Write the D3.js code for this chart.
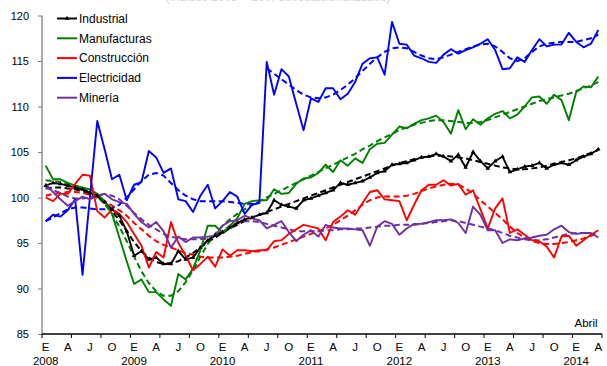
<!DOCTYPE html>
<html>
<head>
<meta charset="utf-8">
<script src="https://cdn.jsdelivr.net/npm/d3@7"></script>
<style>
  html, body { margin: 0; padding: 0; background: #fff; }
  svg { display: block; font-family: "Liberation Sans", Arial, sans-serif; }
</style>
</head>
<body>
<svg id="chart" width="607" height="366"></svg>
<script>
// Monthly indices, January 2008 to April 2014 (76 months)
const years = [2008, 2009, 2010, 2011, 2012, 2013, 2014];
const monthLetters = ["E", "A", "J", "O"]; // January, April, July, October
const yTicks = [85, 90, 95, 100, 105, 110, 115, 120];
const seriesNames = ["Industrial", "Manufacturas", "Construcción", "Electricidad", "Minería"];

const industrial = [101.3,101.6,101.5,101.3,101.1,100.9,100.5,100.2,99.5,98.7,98.0,96.3,93.6,94.1,93.2,93.4,92.7,92.7,94.1,93.2,93.4,94.5,95.3,95.8,96.2,96.7,97.2,97.6,97.8,98.1,98.3,99.7,99.2,99.0,98.8,99.7,99.9,100.2,100.5,100.8,101.6,101.4,101.6,101.8,102.2,102.7,102.9,103.6,103.7,103.8,104.1,104.4,104.5,104.8,104.5,104.0,104.7,103.3,105.0,104.0,103.2,104.0,104.5,102.8,103.1,103.4,103.5,103.8,103.2,103.6,103.8,103.6,104.1,104.5,104.8,105.3];
const industrialTrend = [101.0,101.1,101.1,101.0,100.9,100.7,100.4,100.0,99.4,98.5,97.5,96.3,95.1,94.1,93.4,92.9,92.7,92.8,93.0,93.4,93.9,94.5,95.1,95.6,96.1,96.6,97.0,97.4,97.8,98.1,98.4,98.7,99.0,99.3,99.6,99.9,100.2,100.5,100.8,101.1,101.4,101.7,102.0,102.3,102.6,102.9,103.2,103.5,103.8,104.0,104.2,104.4,104.5,104.6,104.6,104.5,104.4,104.3,104.1,103.9,103.7,103.5,103.3,103.2,103.1,103.1,103.2,103.3,103.5,103.7,103.9,104.1,104.3,104.6,104.9,105.2];

const manufacturas = [103.5,102.0,102.0,101.6,101.3,101.1,100.9,100.4,99.6,98.2,95.6,93.0,90.5,91.0,89.6,89.6,88.8,88.1,91.6,91.0,92.2,94.2,96.9,96.9,96.1,96.9,97.7,99.3,99.6,99.7,99.7,100.9,100.4,100.5,101.5,102.1,102.2,102.7,103.6,102.8,104.1,103.5,104.3,103.8,105.3,105.9,106.0,106.9,107.8,107.6,108.1,108.5,108.7,109.0,108.3,107.0,109.6,107.5,108.6,108.0,108.7,109.2,109.5,108.7,109.1,110.0,111.0,111.1,110.3,111.3,110.7,108.5,111.6,112.2,112.1,113.3];
const manufacturasTrend = [101.9,101.8,101.7,101.5,101.3,101.0,100.6,100.1,99.3,98.2,96.8,95.2,93.5,91.9,90.6,89.7,89.2,89.2,89.7,90.7,92.0,93.5,94.9,96.0,96.9,97.6,98.2,98.7,99.2,99.6,100.0,100.4,100.8,101.2,101.6,102.0,102.4,102.8,103.2,103.6,104.0,104.4,104.8,105.3,105.7,106.2,106.6,107.0,107.4,107.7,108.0,108.2,108.4,108.5,108.5,108.4,108.3,108.2,108.2,108.3,108.5,108.8,109.1,109.4,109.7,110.0,110.3,110.6,110.8,111.0,111.2,111.4,111.7,112.0,112.3,112.7];

const construccion = [100.0,99.6,100.4,100.4,101.5,102.5,102.4,98.5,97.8,98.7,98.2,97.3,96.0,94.7,92.3,94.0,93.4,97.3,95.0,93.6,92.0,92.7,93.5,92.4,94.3,93.6,94.2,94.2,94.1,94.2,94.2,95.2,95.3,96.0,96.5,97.0,96.8,96.6,95.3,97.3,97.9,98.6,98.1,99.4,100.6,100.8,99.8,99.7,99.6,97.5,99.2,100.8,101.4,101.4,101.9,101.3,101.5,100.3,100.8,98.7,96.6,98.8,99.9,96.1,96.5,95.9,95.3,95.2,94.6,93.4,95.7,95.8,94.7,95.3,95.9,96.4];
const construccionTrend = [100.2,100.4,100.5,100.6,100.6,100.5,100.3,100.0,99.6,99.1,98.6,98.0,97.2,96.5,95.8,95.2,94.8,94.5,94.2,93.9,93.7,93.5,93.4,93.4,93.4,93.5,93.6,93.8,94.0,94.1,94.3,94.5,94.8,95.1,95.4,95.7,96.0,96.3,96.6,97.0,97.5,98.0,98.6,99.2,99.7,100.0,100.1,100.1,100.1,100.2,100.4,100.7,101.0,101.2,101.4,101.5,101.4,101.0,100.4,99.7,99.0,98.3,97.6,96.8,96.1,95.6,95.2,95.0,94.9,94.9,95.0,95.1,95.3,95.5,95.8,96.1];

const electricidad = [97.4,98.1,97.9,98.6,99.8,91.5,100.0,108.4,105.3,102.0,102.5,99.7,101.4,101.7,105.1,104.4,102.7,103.2,99.8,99.6,98.4,100.2,101.4,98.8,99.6,100.6,100.1,98.2,99.2,99.4,114.9,111.3,114.1,113.3,110.3,107.4,110.9,110.5,112.0,112.0,110.8,111.4,112.7,114.7,115.3,115.4,113.5,119.3,116.9,116.8,115.6,115.3,114.9,114.8,115.7,116.3,115.8,116.2,116.5,116.9,117.4,116.2,114.1,114.2,115.4,114.9,116.2,117.4,116.6,116.8,116.8,118.1,117.1,116.5,116.9,118.4];
// The trend restarts at July 2010 (index 30), after the level shift
const electricidadTrend = [97.4,97.8,98.3,98.7,98.9,98.9,98.8,98.7,98.7,98.8,99.2,100.0,100.9,101.8,102.5,102.7,102.4,101.6,100.8,100.2,99.8,99.6,99.6,99.6,99.6,99.5,99.4,99.3,99.3,99.5,114.2,113.6,113.0,112.4,111.8,111.3,111.0,110.9,111.0,111.3,111.8,112.4,113.1,113.9,114.7,115.4,116.0,116.4,116.5,116.4,116.0,115.6,115.3,115.2,115.4,115.7,116.0,116.3,116.6,116.8,116.9,116.6,116.0,115.3,115.0,115.3,116.0,116.6,116.9,117.0,117.1,117.1,117.1,117.3,117.5,117.9];
const electricidadBreak = 30;

const mineria = [101.5,100.6,99.8,99.1,99.6,100.1,99.8,100.2,100.4,99.8,99.5,99.3,98.2,97.3,96.7,97.3,96.3,94.5,95.7,95.1,95.6,95.6,95.7,95.8,96.9,97.4,97.5,98.0,97.7,97.5,96.6,97.0,97.4,96.2,95.2,95.9,96.4,95.7,97.0,96.7,96.6,96.6,96.5,96.4,94.7,96.8,97.4,97.1,95.9,96.6,97.1,97.1,97.3,97.5,97.5,97.6,97.2,96.1,99.0,98.1,96.4,96.4,95.0,95.4,95.3,95.5,95.6,95.8,95.9,96.5,96.9,96.2,96.0,96.1,96.1,95.6];
const mineriaTrend = [101.1,100.8,100.5,100.1,99.9,99.9,100.0,100.2,100.4,100.2,99.8,99.1,98.3,97.6,97.0,96.5,96.0,95.7,95.5,95.4,95.4,95.4,95.5,95.8,96.3,96.9,97.2,97.4,97.4,97.3,97.1,96.9,96.7,96.5,96.3,96.3,96.3,96.3,96.4,96.4,96.5,96.5,96.6,96.6,96.7,96.8,96.9,96.9,97.0,97.0,97.0,97.1,97.2,97.3,97.4,97.5,97.4,97.2,97.0,96.8,96.6,96.4,96.1,95.8,95.6,95.4,95.3,95.3,95.4,95.6,95.8,96.0,96.1,96.1,96.0,95.9];

const colors = ["#000000", "#008000", "#ff0000", "#0000ff", "#7030a0"];

const svg = d3.select("#chart");
const plotLeft = 42, plotRight = 602, plotTop = 15.5, plotBottom = 334;
const nMonths = industrial.length;

const x = d3.scaleBand().domain(d3.range(nMonths)).range([plotLeft, plotRight]).paddingInner(0).paddingOuter(0);
const cx = i => x(i) + x.bandwidth() / 2;
const y = d3.scaleLinear().domain([85, 120]).range([plotBottom, plotTop]);

// faint heading, mostly cut off by the top edge
svg.append("text")
  .attr("x", 278).attr("y", 1)
  .attr("text-anchor", "middle")
  .attr("font-size", 12).attr("fill", "#d6d6d6")
  .text("(Índices 2008 = 100, desestacionalizados)");

// y axis
const yAxis = d3.axisLeft(y).tickValues(yTicks).tickSize(4).tickPadding(9);
const gy = svg.append("g").attr("transform", `translate(${plotLeft},0)`).call(yAxis);
gy.select(".domain").attr("stroke", "#808080").attr("stroke-width", 1.3).attr("d", `M0,${plotTop}V${plotBottom}`);
gy.selectAll(".tick line").attr("stroke", "#808080");
gy.selectAll(".tick text").attr("font-size", 11).attr("fill", "#000").attr("font-family", "Liberation Sans, Arial, sans-serif");

// x axis: tick marks every four months, labels every quarter
const xTickIdx = d3.range(0, nMonths + 1, 4);
const gx = svg.append("g");
gx.append("line").attr("x1", plotLeft).attr("x2", plotRight).attr("y1", plotBottom).attr("y2", plotBottom)
  .attr("stroke", "#000").attr("stroke-width", 1.3);
gx.selectAll("line.tk").data(xTickIdx).join("line").attr("class", "tk")
  .attr("x1", i => (i < nMonths ? x(i) : plotRight)).attr("x2", i => (i < nMonths ? x(i) : plotRight))
  .attr("y1", plotBottom).attr("y2", plotBottom + 4).attr("stroke", "#000");

const quarterIdx = d3.range(0, nMonths, 3);
gx.selectAll("text.m").data(quarterIdx).join("text").attr("class", "m")
  .attr("x", i => cx(i)).attr("y", 351)
  .attr("text-anchor", "middle").attr("font-size", 11.5)
  .text(i => monthLetters[(i % 12) / 3]);
gx.selectAll("text.yr").data(years).join("text").attr("class", "yr")
  .attr("x", (d, k) => cx(k * 12)).attr("y", 365)
  .attr("text-anchor", "middle").attr("font-size", 11.5)
  .text(d => d);
svg.append("text").attr("x", 586).attr("y", 326.5).attr("text-anchor", "middle")
  .attr("font-size", 11.5).text("Abril");

const line = d3.line().x((d, i) => cx(i)).y(d => y(d));
const lineFrom = start => d3.line().x((d, i) => cx(i + start)).y(d => y(d));

const raw = [industrial, manufacturas, construccion, electricidad, mineria];
const trend = [industrialTrend, manufacturasTrend, construccionTrend, electricidadTrend, mineriaTrend];

const plot = svg.append("g").attr("fill", "none").attr("stroke-linejoin", "round");

// dashed trends
trend.forEach((t, k) => {
  if (k === 3) {
    plot.append("path").attr("d", lineFrom(0)(t.slice(0, electricidadBreak)))
      .attr("stroke", colors[k]).attr("stroke-width", 2).attr("stroke-dasharray", "6,3.5");
    plot.append("path").attr("d", lineFrom(electricidadBreak)(t.slice(electricidadBreak)))
      .attr("stroke", colors[k]).attr("stroke-width", 2).attr("stroke-dasharray", "6,3.5");
  } else {
    plot.append("path").attr("d", line(t))
      .attr("stroke", colors[k]).attr("stroke-width", 2).attr("stroke-dasharray", "6,3.5");
  }
});

// monthly series
raw.forEach((s, k) => {
  plot.append("path").attr("d", line(s)).attr("stroke", colors[k]).attr("stroke-width", 1.9);
});

// small triangle markers on the Industrial series
const tri = d3.symbol().type(d3.symbolTriangle).size(9);
svg.append("g").selectAll("path").data(industrial).join("path")
  .attr("transform", (d, i) => `translate(${cx(i)},${y(d)})`)
  .attr("d", tri).attr("fill", "#000");

// legend
const lg = svg.append("g");
seriesNames.forEach((name, k) => {
  const yy = 18.5 + k * 19.8;
  lg.append("line").attr("x1", 57).attr("x2", 77).attr("y1", yy).attr("y2", yy)
    .attr("stroke", colors[k]).attr("stroke-width", 2);
  if (k === 0) {
    lg.append("path").attr("transform", `translate(67,${yy})`).attr("d", tri).attr("fill", "#000");
  }
  lg.append("text").attr("x", 79).attr("y", yy + 4.3).attr("font-size", 12).text(name);
});
</script>
</body>
</html>
